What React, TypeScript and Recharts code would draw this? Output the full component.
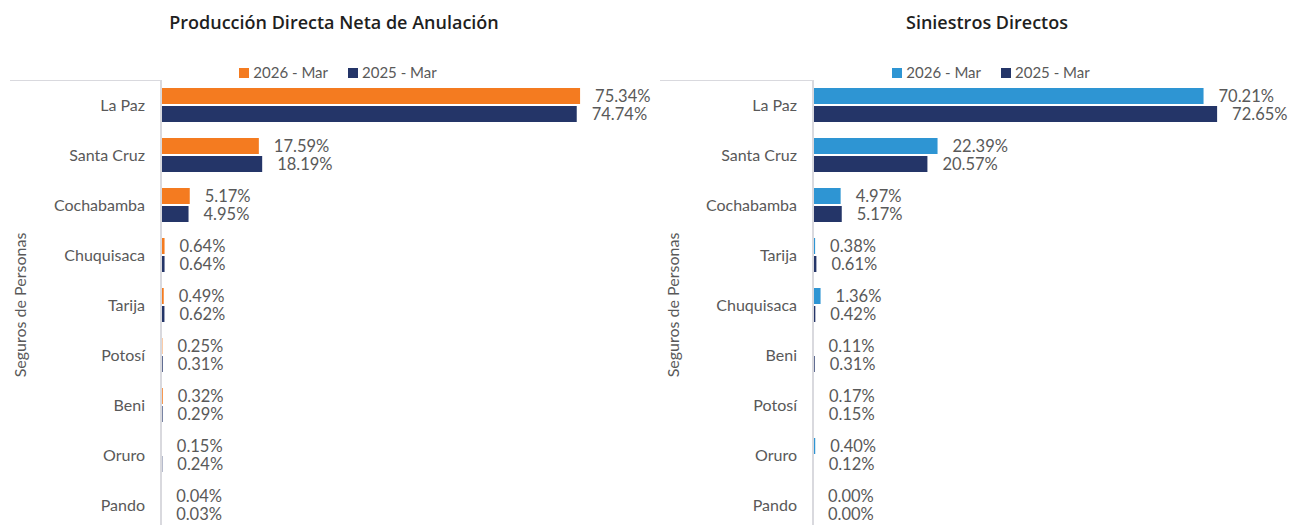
import { BarChart, Bar, XAxis, YAxis, Legend, LabelList } from 'recharts';

const prodCategories = ['La Paz', 'Santa Cruz', 'Cochabamba', 'Chuquisaca', 'Tarija', 'Potosí', 'Beni', 'Oruro', 'Pando'];
const prod2026 = [75.34, 17.59, 5.17, 0.64, 0.49, 0.25, 0.32, 0.15, 0.04];
const prod2025 = [74.74, 18.19, 4.95, 0.64, 0.62, 0.31, 0.29, 0.24, 0.03];

const sinCategories = ['La Paz', 'Santa Cruz', 'Cochabamba', 'Tarija', 'Chuquisaca', 'Beni', 'Potosí', 'Oruro', 'Pando'];
const sin2026 = [70.21, 22.39, 4.97, 0.38, 1.36, 0.11, 0.17, 0.4, 0.0];
const sin2025 = [72.65, 20.57, 5.17, 0.61, 0.42, 0.31, 0.15, 0.12, 0.0];

const seriesNames = ['2026 - Mar', '2025 - Mar'];

const TEXT = '#595959';
const FONT = 'Lato, "Open Sans", sans-serif';
const ORANGE = '#F47B20';
const NAVY = '#243568';
const BLUE = '#2E95D3';

const fmt = (v: any) => `${Number(v).toFixed(2)}%`;
// zero values still need their label, so give them an invisible sliver
const zeroSliver = (v: any) => (Number(v) === 0 ? 0.01 : 0);

interface PanelProps {
  title: string;
  categories: string[];
  current: number[];
  previous: number[];
  currentColor: string;
  left: number;
  width: number;
  axisWidth: number;
  titleCenter: number;
  legendCenter: number;
  yLabelOffset: number;
}

const Panel = ({ title, categories, current, previous, currentColor, left, width, axisWidth, titleCenter, legendCenter, yLabelOffset }: PanelProps) => {
  const data = categories.map((name, i) => ({ name, cur: current[i], prev: previous[i] }));
  const colors = [currentColor, NAVY];

  const renderLegend = () => (
    <div style={{ display: 'flex', justifyContent: 'center', gap: 20, fontSize: 15, color: TEXT, fontFamily: FONT, lineHeight: '17px' }}>
      {seriesNames.map((n, i) => (
        <span key={n} style={{ display: 'inline-flex', alignItems: 'center' }}>
          <span style={{ display: 'inline-block', width: 10, height: 10, background: colors[i], marginRight: 4 }} />
          {n}
        </span>
      ))}
    </div>
  );

  return (
    <div style={{ position: 'absolute', left, top: 0, width, height: 525, overflow: 'hidden' }}>
      <div
        style={{
          position: 'absolute',
          top: 10,
          left: titleCenter - 300,
          width: 600,
          textAlign: 'center',
          fontWeight: 600,
          fontSize: 18,
          color: '#1f1f1f',
          fontFamily: '"Open Sans", sans-serif',
        }}
      >
        {title}
      </div>
      <div style={{ position: 'absolute', top: 80, left: 10, width: axisWidth - 10, borderTop: '1px solid #d9d9de' }} />
      <BarChart
        width={width}
        height={557}
        data={data}
        layout="vertical"
        margin={{ top: 63, right: width - axisWidth - 445, bottom: 27, left: 0 }}
        barSize={16}
        barGap={2}
        style={{ fontFamily: FONT }}
      >
        <XAxis type="number" hide domain={[0, 80]} />
        <YAxis
          type="category"
          dataKey="name"
          width={axisWidth}
          tickLine={false}
          tickMargin={10}
          axisLine={{ stroke: '#d9d9de', strokeWidth: 2 }}
          tick={{ fill: TEXT, fontSize: 16 }}
          label={{
            value: 'Seguros de Personas',
            angle: -90,
            position: 'insideLeft',
            offset: yLabelOffset,
            style: { textAnchor: 'middle', fill: TEXT, fontSize: 16 },
          }}
        />
        <Legend
          verticalAlign="top"
          height={17}
          content={renderLegend}
          wrapperStyle={{ top: 64, left: 0, width: legendCenter * 2 }}
        />
        <Bar dataKey="cur" name={seriesNames[0]} fill={currentColor} minPointSize={zeroSliver} isAnimationActive={false}>
          <LabelList dataKey="cur" position="right" offset={15} formatter={fmt} style={{ fill: TEXT, fontSize: 16.5 }} />
        </Bar>
        <Bar dataKey="prev" name={seriesNames[1]} fill={NAVY} minPointSize={zeroSliver} isAnimationActive={false}>
          <LabelList dataKey="prev" position="right" offset={15} formatter={fmt} style={{ fill: TEXT, fontSize: 16.5 }} />
        </Bar>
      </BarChart>
    </div>
  );
};

export default function App() {
  return (
    <div style={{ position: 'relative', width: 1291, height: 525, overflow: 'hidden', background: '#fff' }}>
      <style>{`body{margin:0}`}</style>
      <Panel
        title="Producción Directa Neta de Anulación"
        categories={prodCategories}
        current={prod2026}
        previous={prod2025}
        currentColor={ORANGE}
        left={0}
        width={660}
        axisWidth={161}
        titleCenter={334}
        legendCenter={338}
        yLabelOffset={20}
      />
      <Panel
        title="Siniestros Directos"
        categories={sinCategories}
        current={sin2026}
        previous={sin2025}
        currentColor={BLUE}
        left={650}
        width={641}
        axisWidth={163}
        titleCenter={337}
        legendCenter={341}
        yLabelOffset={23}
      />
    </div>
  );
}
